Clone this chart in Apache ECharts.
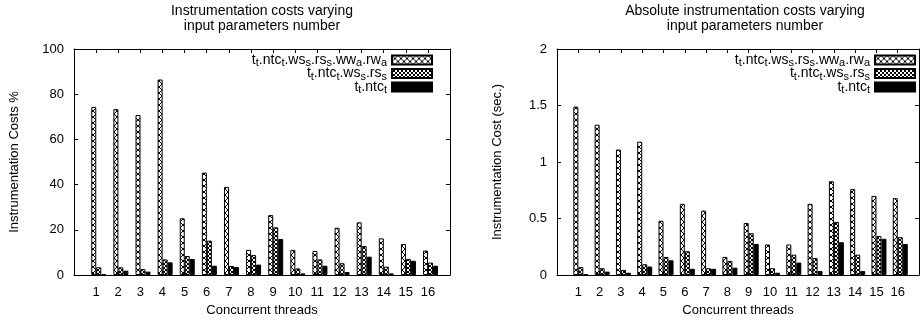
<!DOCTYPE html>
<html><head><meta charset="utf-8">
<script src="https://cdn.jsdelivr.net/npm/echarts@6/dist/echarts.min.js"></script>
<style>html,body{margin:0;padding:0;background:#fff}#c{width:922px;height:324px}</style>
</head><body><div id="c"></div>
<script>
// ---- data ----
const threads = [1,2,3,4,5,6,7,8,9,10,11,12,13,14,15,16];
const seriesNames = ['t_t.ntc_t.ws_s.rs_s.ww_a.rw_a', 't_t.ntc_t.ws_s.rs_s', 't_t.ntc_t'];
// left chart: relative cost (%)
const pctFull = [74.3, 73.4, 70.8, 86.5, 25.1, 45.3, 39.0, 11.1, 26.5, 11.1, 10.6, 20.9, 23.3, 16.2, 13.7, 10.8];
const pctMid  = [3.4, 3.4, 2.6, 6.9, 8.4, 15.2, 4.0, 8.8, 21.1, 2.9, 6.9, 5.2, 12.8, 3.7, 7.1, 5.5];
const pctBase = [0.4, 1.9, 1.5, 5.6, 7.1, 4.1, 3.5, 4.6, 15.9, 0.7, 4.1, 1.3, 8.1, 0.7, 6.3, 4.1];
// right chart: absolute cost (sec.)
const secFull = [1.49, 1.33, 1.11, 1.18, 0.48, 0.63, 0.57, 0.16, 0.46, 0.27, 0.27, 0.63, 0.83, 0.76, 0.70, 0.68];
const secMid  = [0.07, 0.06, 0.045, 0.095, 0.16, 0.21, 0.06, 0.125, 0.37, 0.06, 0.18, 0.15, 0.47, 0.18, 0.345, 0.335];
const secBase = [0.005, 0.03, 0.02, 0.075, 0.13, 0.055, 0.055, 0.065, 0.275, 0.02, 0.11, 0.035, 0.29, 0.035, 0.32, 0.275];
const pctTicks = [0, 20, 40, 60, 80, 100];
const secTicks = [0, 0.5, 1, 1.5, 2];
const titles = ['Instrumentation costs varying\ninput parameters number', 'Absolute instrumentation costs varying\ninput parameters number'];
const yNames = ['Instrumentation Costs %', 'Instrumentation Cost (sec.)'];
const xName = 'Concurrent threads';

// ---- styling helpers ----
const FONT = '"Liberation Sans", Arial, Helvetica, sans-serif';
function makePattern(size) {
  const c = document.createElement('canvas');
  c.width = size; c.height = size;
  const g = c.getContext('2d');
  g.fillStyle = '#fff'; g.fillRect(0, 0, size, size);
  g.fillStyle = '#000';
  for (let i = 0; i < size; i++) {
    g.fillRect(i, i, 1, 1);
    g.fillRect(size - 1 - i, i, 1, 1);
  }
  return c;
}
const fills = [
  { image: makePattern(6), repeat: 'repeat' },
  { image: makePattern(4), repeat: 'repeat' },
  '#000'
];
function richName(n) {
  const parts = n.split(/_(\w)/);
  let out = '';
  for (let i = 0; i < parts.length; i++) {
    if (!parts[i]) continue;
    out += (i % 2 === 1) ? '{s|' + parts[i] + '}' : '{n|' + parts[i] + '}';
  }
  return out;
}

const charts = [
  { vals: [pctFull, pctMid, pctBase], ticks: pctTicks, left: 74, right: 472, tcx: 262 },
  { vals: [secFull, secMid, secBase], ticks: secTicks, left: 557, right: -12, tcx: 745 }
];

const grid = [], xAxis = [], yAxis = [], series = [], graphic = [], legend = [];
const black = { color: '#000', width: 1 };
charts.forEach((ch, i) => {
  grid.push({ left: ch.left, right: ch.right, top: 49, bottom: 49, containLabel: false });
  const tmin = ch.ticks[0], tmax = ch.ticks[ch.ticks.length - 1];
  const tint = ch.ticks[1] - ch.ticks[0];
  xAxis.push({
    gridIndex: i, type: 'value', min: 0, max: 17, interval: 1, position: 'bottom',
    axisLine: { show: true, onZero: false, lineStyle: black },
    axisTick: { show: true, inside: true, length: 4, lineStyle: black },
    axisLabel: { color: '#000', fontSize: 13, fontFamily: FONT, margin: 11,
      formatter: v => threads.includes(v) ? String(v) : '' },
    splitLine: { show: false },
    name: xName, nameLocation: 'middle', nameGap: 29,
    nameTextStyle: { color: '#000', fontSize: 13, fontFamily: FONT }
  });
  xAxis.push({
    gridIndex: i, type: 'value', min: 0, max: 17, interval: 1, position: 'top',
    axisLine: { show: true, onZero: false, lineStyle: black },
    axisTick: { show: true, inside: true, length: 4, lineStyle: black },
    axisLabel: { show: false }, splitLine: { show: false }
  });
  xAxis.push({ gridIndex: i, type: 'value', min: -0.12, max: 16.88, show: false, splitLine: { show: false } });
  yAxis.push({
    gridIndex: i, type: 'value', min: tmin, max: tmax, interval: tint, position: 'left',
    axisLine: { show: true, onZero: false, lineStyle: black },
    axisTick: { show: true, inside: true, length: 4, lineStyle: black },
    axisLabel: { color: '#000', fontSize: 13, fontFamily: FONT, margin: 10,
      formatter: v => String(v) },
    splitLine: { show: false },
    name: yNames[i], nameLocation: 'middle', nameGap: 53,
    nameTextStyle: { color: '#000', fontSize: 13, fontFamily: FONT }
  });
  yAxis.push({
    gridIndex: i, type: 'value', min: tmin, max: tmax, interval: tint, position: 'right',
    axisLine: { show: true, onZero: false, lineStyle: black },
    axisTick: { show: true, inside: true, length: 4, lineStyle: black },
    axisLabel: { show: false }, splitLine: { show: false }
  });
  ch.vals.forEach((vals, k) => {
    series.push({
      type: 'bar', name: seriesNames[k], xAxisIndex: 3 * i + 2, yAxisIndex: 2 * i,
      data: threads.map((t, j) => [t, vals[j]]),
      barWidth: 5, barGap: '0%',
      itemStyle: { color: fills[k], borderColor: '#000', borderWidth: 1 },
      emphasis: { disabled: true }
    });
  });
  graphic.push({
    type: 'text', x: ch.tcx, y: 4,
    style: { text: titles[i], align: 'center', fontSize: 14, fontFamily: FONT, lineHeight: 15, fill: '#000' }
  });
  legend.push({
    data: seriesNames, orient: 'vertical', align: 'right', icon: 'rect',
    right: i === 0 ? 489 : 6, top: 53, padding: 0,
    itemWidth: 40, itemHeight: 9, itemGap: -2, selectedMode: false,
    formatter: richName,
    textStyle: {
      color: '#000', fontFamily: FONT,
      rich: {
        n: { fontSize: 14, lineHeight: 17, verticalAlign: 'middle', fontFamily: FONT, color: '#000' },
        s: { fontSize: 11, lineHeight: 17, verticalAlign: 'bottom', fontFamily: FONT, color: '#000' }
      }
    }
  });
});

const chart = echarts.init(document.getElementById('c'), null, { renderer: 'canvas' });
chart.setOption({
  animation: false,
  backgroundColor: '#fff',
  textStyle: { fontFamily: FONT },
  grid, xAxis, yAxis, series, legend, graphic
});
</script>
</body></html>
